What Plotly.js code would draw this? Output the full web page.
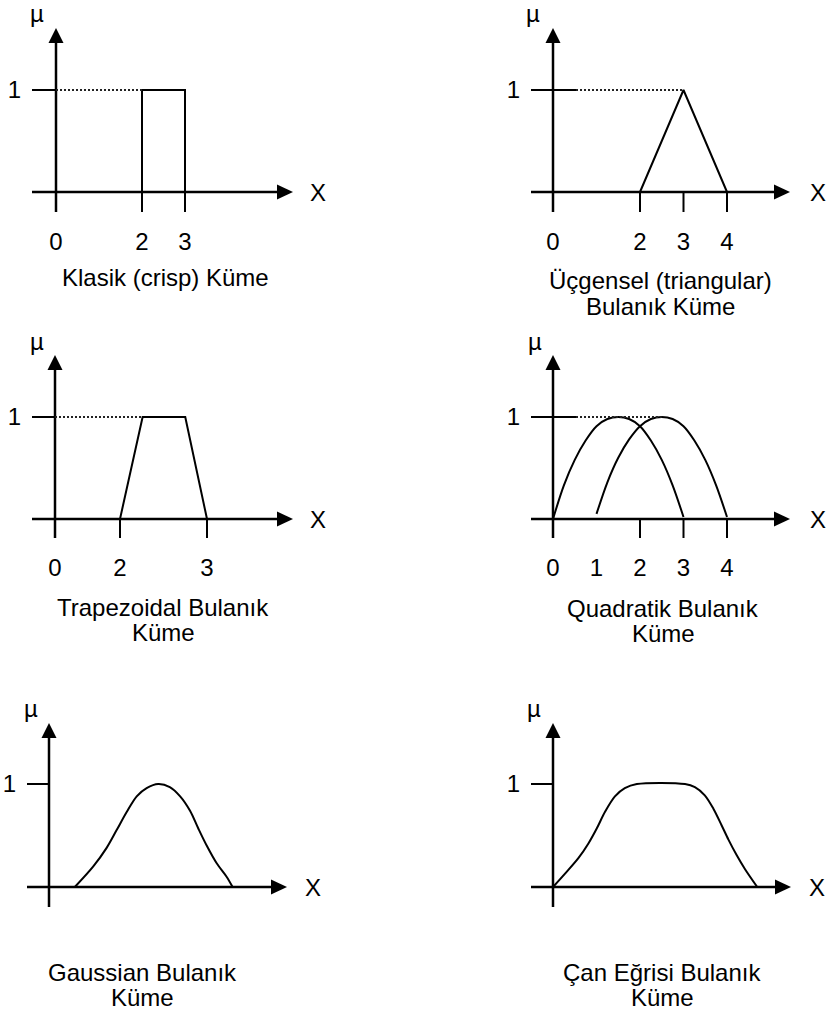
<!DOCTYPE html>
<html><head><meta charset="utf-8">
<script src="https://cdn.plot.ly/plotly-3.0.1.min.js"></script>
<style>html,body{margin:0;padding:0;background:#fff}</style>
</head><body><div id="chart" style="width:826px;height:1016px"></div>
<script>
// ---------- data ----------
// Klasik (crisp) küme
const crispX = [2, 2, 3, 3];
const crispY = [0, 1, 1, 0];
// Üçgensel (triangular)
const triX = [2, 3, 4];
const triY = [0, 1, 0];
// Trapezoidal
const trapX = [2, 2.26, 2.75, 3];
const trapY = [0, 1, 1, 0];
// Quadratik (two curves)
const quadAX = [0, 0.25, 0.5, 0.75, 1.0, 1.25, 1.5, 1.75, 2.0, 2.25, 2.5, 2.75, 3.0];
const quadAY = [0, 0.33, 0.58, 0.77, 0.91, 0.98, 1.0, 0.98, 0.91, 0.77, 0.58, 0.33, 0.02];
const quadBX = [1.0, 1.25, 1.5, 1.75, 2.0, 2.25, 2.5, 2.75, 3.0, 3.25, 3.5, 3.75, 4.0];
const quadBY = [0.05, 0.36, 0.6, 0.78, 0.91, 0.98, 1.0, 0.98, 0.91, 0.77, 0.58, 0.33, 0.02];
// Gaussian
const gaussX = [0.6, 1.03, 1.34, 1.57, 1.81, 2.04, 2.27, 2.54, 2.81, 3.05, 3.28, 3.47, 3.67, 3.90, 4.13, 4.27];
const gaussY = [0, 0.2, 0.38, 0.55, 0.73, 0.88, 0.96, 1.0, 0.97, 0.88, 0.74, 0.57, 0.4, 0.23, 0.1, 0];
// Çan eğrisi (bell)
const bellX = [0, 0.28, 0.59, 0.82, 1.02, 1.21, 1.44, 1.67, 1.95, 3.07, 3.30, 3.53, 3.73, 3.92, 4.08, 4.27, 4.47, 4.75];
const bellY = [0, 0.13, 0.28, 0.42, 0.57, 0.73, 0.88, 0.96, 1.0, 1.0, 0.97, 0.89, 0.76, 0.60, 0.46, 0.31, 0.17, 0];

// tick labels / tick marks
const ticks1 = [0, 2, 3];       const marks1 = [2, 3];
const ticks2 = [0, 2, 3, 4];    const marks2 = [2, 3, 4];
const ticks3 = [0, 2, 3];       const marks3 = [2, 3];
const ticks4 = [0, 1, 2, 3, 4]; const marks4 = [2, 3, 4];
const yTickVal = [1];
const yTickText = ['1'];

// titles
const title1 = ['Klasik (crisp) Küme'];
const title2 = ['Üçgensel (triangular)', 'Bulanık Küme'];
const title3 = ['Trapezoidal Bulanık', 'Küme'];
const title4 = ['Quadratik Bulanık', 'Küme'];
const title5 = ['Gaussian Bulanık', 'Küme'];
const title6 = ['Çan Eğrisi Bulanık', 'Küme'];
const muLabel = 'µ';
const xLabel = 'X';

// ---------- layout geometry (pixels) ----------
const W = 826, H = 1016;
const FONT = 'Liberation Sans, Arial, sans-serif';
const FS = 24;

const panels = [
  {series: [[crispX, crispY, 'linear']], ticks: ticks1, marks: marks1, title: title1,
   L: 32, R: 293, T: 28, B: 212, axPx: 56, ayPx: 192, y1Px: 90, refVal: 0, refPx: 56, unit: 43, tickEndPx: 56,
   mu: [37, 14], X: [318, 192], titlePos: [165, 278], dotted: true},
  {series: [[triX, triY, 'linear']], ticks: ticks2, marks: marks2, title: title2,
   L: 531, R: 790, T: 28, B: 212, axPx: 553, ayPx: 192, y1Px: 90, refVal: 0, refPx: 553, unit: 43.5, tickEndPx: 576,
   mu: [533, 14], X: [818, 192], titlePos: [660, 281], dotted: true},
  {series: [[trapX, trapY, 'linear']], ticks: ticks3, marks: marks3, title: title3,
   L: 32, R: 293, T: 355, B: 538, axPx: 55, ayPx: 519, y1Px: 417, refVal: 2, refPx: 120, unit: 87, tickEndPx: 55,
   mu: [37, 341], X: [318, 519], titlePos: [163, 607], dotted: true},
  {series: [[quadAX, quadAY, 'spline'], [quadBX, quadBY, 'spline']], ticks: ticks4, marks: marks4, title: title4,
   L: 531, R: 790, T: 355, B: 538, axPx: 553, ayPx: 519, y1Px: 417, refVal: 0, refPx: 553, unit: 43.5, tickEndPx: 576,
   mu: [535, 341], X: [818, 519], titlePos: [663, 608], dotted: true, dottedToLast: true},
  {series: [[gaussX, gaussY, 'spline']], ticks: null, marks: [], title: title5,
   L: 27, R: 287, T: 723, B: 907, axPx: 49, ayPx: 887, y1Px: 784, refVal: 0, refPx: 49, unit: 43, tickEndPx: 49,
   mu: [31, 708], X: [313, 887], titlePos: [142, 972], dotted: false},
  {series: [[bellX, bellY, 'spline']], ticks: null, marks: [], title: title6,
   L: 531, R: 791, T: 723, B: 907, axPx: 553, ayPx: 887, y1Px: 784, refVal: 0, refPx: 553, unit: 43, tickEndPx: 553,
   mu: [534, 708], X: [817, 887], titlePos: [662, 972], dotted: false}
];

const data = [];
const layout = {
  width: W, height: H, margin: {l: 0, r: 0, t: 0, b: 0},
  paper_bgcolor: '#fff', plot_bgcolor: 'rgba(0,0,0,0)',
  showlegend: false, shapes: [], annotations: [],
  font: {family: FONT, size: FS, color: '#000'}
};

const LINE_TITLE = 25.5;

panels.forEach((p, i) => {
  const n = i + 1;
  const xa = n === 1 ? 'x' : 'x' + n;
  const ya = n === 1 ? 'y' : 'y' + n;
  const xval = px => p.refVal + (px - p.refPx) / p.unit;
  const yUnit = p.ayPx - p.y1Px;
  const yval = py => (p.ayPx - py) / yUnit;
  const xr = [xval(p.L), xval(p.R)];
  const yr = [yval(p.B), yval(p.T)];
  const axisVal = xval(p.axPx);

  p.series.forEach(s => {
    data.push({x: s[0], y: s[1], xaxis: xa, yaxis: ya, mode: 'lines',
      line: {color: '#000', width: 2, shape: s[2], smoothing: 0.9},
      hoverinfo: 'skip'});
  });

  layout['xaxis' + (n === 1 ? '' : n)] = {
    domain: [p.L / W, p.R / W], range: xr, anchor: ya,
    showgrid: false, zeroline: false, showline: false, ticks: '',
    showticklabels: !!p.ticks,
    tickmode: 'array',
    tickvals: p.ticks ? p.ticks.map(v => (v === 0 ? axisVal : v)) : [],
    ticktext: p.ticks ? p.ticks.map(String) : [],
    tickfont: {family: FONT, size: FS, color: '#000'},
    ticklabelstandoff: 13, fixedrange: true
  };
  layout['yaxis' + (n === 1 ? '' : n)] = {
    domain: [1 - p.B / H, 1 - p.T / H], range: yr, anchor: xa,
    showgrid: false, zeroline: false, showline: false, ticks: '',
    tickmode: 'array', tickvals: yTickVal, ticktext: yTickText,
    tickfont: {family: FONT, size: FS, color: '#000'},
    ticklabelstandoff: 10, fixedrange: true
  };

  const S = layout.shapes;
  // horizontal axis
  S.push({type: 'line', xref: xa, yref: ya, x0: xr[0], x1: xr[1] - 6 / p.unit, y0: 0, y1: 0,
          line: {color: '#000', width: 2.5}});
  // vertical axis
  S.push({type: 'line', xref: xa, yref: ya, x0: axisVal, x1: axisVal, y0: yr[0], y1: yr[1] - 6 / yUnit,
          line: {color: '#000', width: 2.5}});
  // arrowheads
  S.push({type: 'path', xref: xa, yref: ya, xsizemode: 'pixel', ysizemode: 'pixel',
          xanchor: xr[1], yanchor: 0, path: 'M0,0L-16,7.5L-16,-7.5Z',
          fillcolor: '#000', line: {width: 0}});
  S.push({type: 'path', xref: xa, yref: ya, xsizemode: 'pixel', ysizemode: 'pixel',
          xanchor: axisVal, yanchor: yr[1], path: 'M0,0L-7.5,-15L7.5,-15Z',
          fillcolor: '#000', line: {width: 0}});
  // tick marks below x axis
  p.marks.forEach(v => {
    S.push({type: 'line', xref: xa, yref: ya, x0: v, x1: v, y0: yr[0], y1: 0,
            line: {color: '#000', width: 2}});
  });
  // y tick at 1
  const tickEnd = xval(p.tickEndPx);
  S.push({type: 'line', xref: xa, yref: ya, x0: xr[0], x1: tickEnd, y0: 1, y1: 1,
          line: {color: '#000', width: 2}});
  // dotted guide to the first point where membership reaches 1
  if (p.dotted) {
    const src = p.dottedToLast ? p.series[p.series.length - 1] : p.series[0];
    const idx = src[1].findIndex(v => v >= 1);
    const peakX = src[0][idx];
    S.push({type: 'line', xref: xa, yref: ya, x0: tickEnd, x1: peakX, y0: 1, y1: 1,
            line: {color: '#222', width: 1.8, dash: '2px,2px'}});
  }

  const A = layout.annotations;
  A.push({text: muLabel, xref: 'paper', yref: 'paper', x: p.mu[0] / W, y: 1 - p.mu[1] / H,
          xanchor: 'center', yanchor: 'middle', showarrow: false, font: {size: 24}});
  A.push({text: xLabel, xref: 'paper', yref: 'paper', x: p.X[0] / W, y: 1 - p.X[1] / H,
          xanchor: 'center', yanchor: 'middle', showarrow: false, font: {size: FS}});
  p.title.forEach((t, k) => {
    A.push({text: t, xref: 'paper', yref: 'paper', x: p.titlePos[0] / W,
            y: 1 - (p.titlePos[1] + k * LINE_TITLE) / H,
            xanchor: 'center', yanchor: 'middle', showarrow: false, font: {size: FS}});
  });
});

Plotly.newPlot('chart', data, layout, {staticPlot: true, displayModeBar: false});
</script>
</body></html>
